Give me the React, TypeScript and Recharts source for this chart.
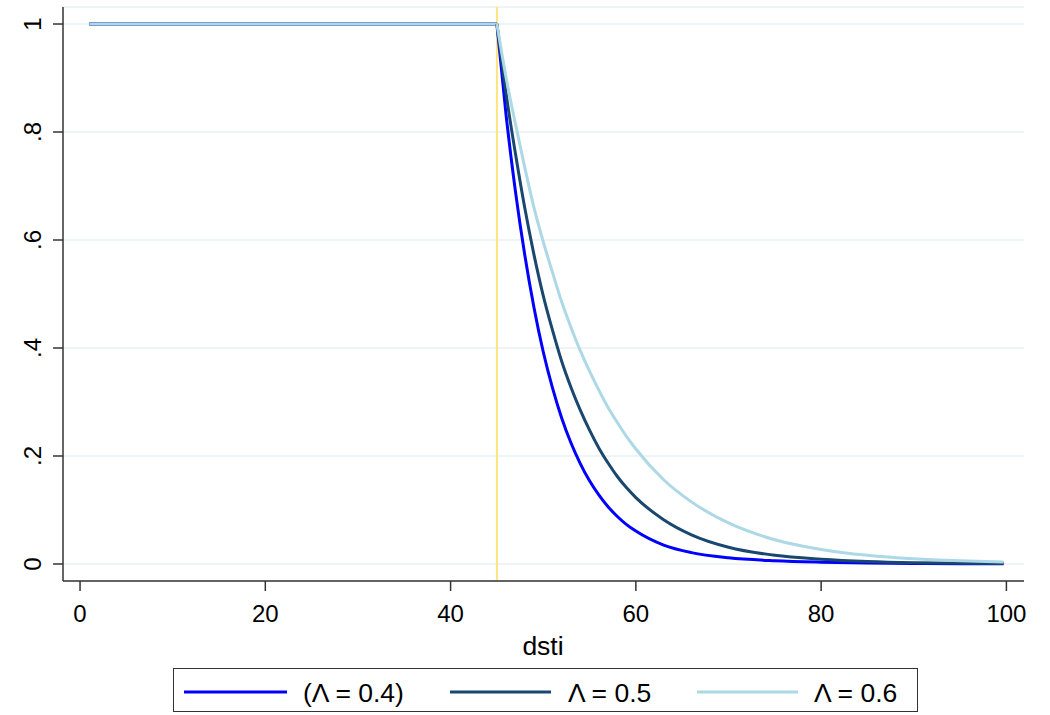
import React from 'react';
import { LineChart, Line, XAxis, YAxis, CartesianGrid, ReferenceLine } from 'recharts';

// ---- data ----
const flatX = [1, 45];
const flatY = [1, 1];
const decayX = [45, 46, 47, 48, 49, 50, 51, 52, 53, 54, 55, 56, 57, 58, 59, 60, 63, 66, 70, 75, 80, 85, 90, 95, 99.7];
const lambda04 = [1, 0.83, 0.69, 0.573, 0.475, 0.393, 0.326, 0.27, 0.224, 0.186, 0.154, 0.128, 0.106, 0.088, 0.073, 0.061, 0.035, 0.021, 0.0115, 0.006, 0.0033, 0.0018, 0.001, 0.0005, 0.0003];
const lambda05 = [1, 0.87, 0.76, 0.66, 0.573, 0.497, 0.433, 0.375, 0.327, 0.285, 0.248, 0.215, 0.187, 0.162, 0.141, 0.123, 0.082, 0.054, 0.031, 0.016, 0.009, 0.0048, 0.0025, 0.0014, 0.0008];
const lambda06 = [1, 0.9, 0.815, 0.735, 0.66, 0.597, 0.54, 0.485, 0.438, 0.395, 0.357, 0.322, 0.29, 0.262, 0.236, 0.213, 0.156, 0.115, 0.076, 0.045, 0.027, 0.016, 0.0095, 0.0058, 0.0036];
const seriesNames = ['(\u039B = 0.4)', '\u039B = 0.5', '\u039B = 0.6'];
const seriesColors = ['#0000ff', '#1a476f', '#add8e6'];
const cutoff = 45;
const xTicks = [0, 20, 40, 60, 80, 100];
const yTicks = [0, 0.2, 0.4, 0.6, 0.8, 1];
const yTickLabels = ['0', '.2', '.4', '.6', '.8', '1'];
const xTitle = 'dsti';

const FONT = '"Liberation Sans", Arial, Helvetica, sans-serif';

const toPoints = (xs: number[], ys: number[]) => xs.map((x, i) => ({ x, y: ys[i] }));
const flatData = toPoints(flatX, flatY);
const decaySeries = [lambda04, lambda05, lambda06].map((ys) => toPoints(decayX, ys));

const XTick = (props: any) => {
  const { x, payload } = props;
  return (
    <text x={x} y={622} textAnchor="middle" fontSize={24} fontFamily={FONT} fill="#000">
      {payload.value}
    </text>
  );
};

const YTick = (props: any) => {
  const { y, payload } = props;
  const idx = yTicks.indexOf(payload.value);
  const label = idx >= 0 ? yTickLabels[idx] : String(payload.value);
  return (
    <text
      x={41}
      y={y}
      transform={`rotate(-90 41 ${y})`}
      textAnchor="middle"
      fontSize={24}
      fontFamily={FONT}
      fill="#000"
    >
      {label}
    </text>
  );
};

const legendLines = [
  { x1: 184, x2: 287, tx: 303 },
  { x1: 450, x2: 551, tx: 568 },
  { x1: 697, x2: 798, tx: 814 },
];

export default function App() {
  return (
    <div style={{ position: 'absolute', left: 0, top: 0, width: 1050, height: 715, background: '#fff' }}>
      <LineChart width={1050} height={715} margin={{ top: 7, right: 26, left: 8, bottom: 74 }}>
        <CartesianGrid vertical={false} stroke="#eaf2f3" strokeWidth={1.5} />
        <XAxis
          type="number"
          dataKey="x"
          domain={[-1.84, 101.9]}
          ticks={xTicks}
          allowDataOverflow
          height={60}
          tickSize={10}
          axisLine={{ stroke: '#333', strokeWidth: 1.5 }}
          tickLine={{ stroke: '#333', strokeWidth: 1.5 }}
          tick={<XTick />}
          interval={0}
        />
        <YAxis
          type="number"
          dataKey="y"
          domain={[-0.0315, 1.0315]}
          ticks={yTicks}
          allowDataOverflow
          width={55}
          tickSize={10}
          axisLine={{ stroke: '#333', strokeWidth: 1.5 }}
          tickLine={{ stroke: '#333', strokeWidth: 1.5 }}
          tick={<YTick />}
          interval={0}
        />
        <ReferenceLine x={cutoff} stroke="#ffe37f" strokeWidth={2} />
        {seriesColors.map((c, i) => (
          <Line
            key={'flat' + i}
            data={flatData}
            dataKey="y"
            type="linear"
            stroke={c}
            strokeWidth={3}
            dot={false}
            activeDot={false}
            isAnimationActive={false}
          />
        ))}
        {seriesColors.map((c, i) => (
          <Line
            key={'decay' + i}
            data={decaySeries[i]}
            dataKey="y"
            type="monotone"
            stroke={c}
            strokeWidth={3}
            dot={false}
            activeDot={false}
            isAnimationActive={false}
          />
        ))}
        <text x={543} y={655} textAnchor="middle" fontSize={26.5} fontFamily={FONT} fill="#000">
          {xTitle}
        </text>
      </LineChart>
      <div
        style={{
          position: 'absolute',
          left: 173,
          top: 668,
          width: 745,
          height: 44,
          boxSizing: 'border-box',
          border: '1px solid #333',
          background: '#fff',
        }}
      />
      <svg style={{ position: 'absolute', left: 0, top: 0 }} width={1050} height={715} pointerEvents="none">
        {legendLines.map((l, i) => (
          <g key={i}>
            <line x1={l.x1} x2={l.x2} y1={692} y2={692} stroke={seriesColors[i]} strokeWidth={3} />
            <text x={l.tx} y={701.5} fontSize={26.5} fontFamily={FONT} fill="#000">
              {seriesNames[i]}
            </text>
          </g>
        ))}
      </svg>
    </div>
  );
}
